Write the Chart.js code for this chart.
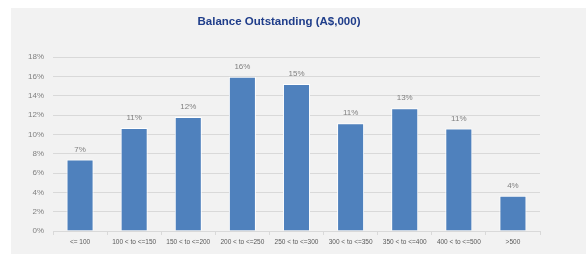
<!DOCTYPE html>
<html>
<head>
<meta charset="utf-8">
<style>
    body { margin: 0; background: #ffffff; }
    #wrap { width: 586px; height: 254px; }
</style>
</head>
<body>
<div id="wrap"><canvas id="balanceChart" width="586" height="254"></canvas></div>
<script src="https://cdn.jsdelivr.net/npm/chart.js"></script>
<script>
    const chartTitle = "Balance Outstanding (A$,000)";
    const categories = ["<= 100", "100 < to <=150", "150 < to <=200", "200 < to <=250", "250 < to <=300",
        "300 < to <=350", "350 < to <=400", "400 < to <=500", ">500"];
    const shares = [7.4, 10.65, 11.8, 15.95, 15.2, 11.15, 12.7, 10.6, 3.65];
    const yTicks = [0, 2, 4, 6, 8, 10, 12, 14, 16, 18];

    (() => {
        // grey panel behind everything + the title
        const panelPlugin = {
            id: 'panel',
            beforeDraw(chart) {
                const ctx = chart.ctx;
                ctx.save();
                ctx.fillStyle = '#f2f2f2';
                ctx.fillRect(11, 8, chart.width - 11, chart.height - 8);
                ctx.fillStyle = '#1f3d8a';
                ctx.font = 'bold 11.5px "Liberation Sans", Arial, sans-serif';
                ctx.textAlign = 'center';
                ctx.textBaseline = 'middle';
                ctx.fillText(chartTitle, 279, 22);
                ctx.restore();
            }
        };

        // percentage labels above each bar
        const valueLabels = {
            id: 'valueLabels',
            afterDatasetsDraw(chart) {
                const ctx = chart.ctx;
                const meta = chart.getDatasetMeta(0);
                ctx.save();
                ctx.fillStyle = '#808080';
                ctx.font = '8px "Liberation Sans", Arial, sans-serif';
                ctx.textAlign = 'center';
                ctx.textBaseline = 'bottom';
                meta.data.forEach((bar, i) => {
                    ctx.fillText(Math.round(shares[i]) + '%', bar.x, bar.y - 6);
                });
                ctx.restore();
            }
        };

        new Chart(document.getElementById('balanceChart'), {
            type: 'bar',
            data: {
                labels: categories,
                datasets: [{
                    data: shares,
                    backgroundColor: '#4f81bd',
                    borderColor: '#ffffff',
                    borderWidth: 1,
                    barPercentage: 0.5,
                    categoryPercentage: 1
                }]
            },
            options: {
                responsive: false,
                animation: false,
                layout: { padding: { top: 57, right: 46, bottom: 0, left: 0 } },
                plugins: {
                    legend: { display: false },
                    title: { display: false },
                    tooltip: { enabled: false }
                },
                scales: {
                    x: {
                        grid: {
                            offset: true,
                            drawOnChartArea: false,
                            drawTicks: true,
                            tickLength: 4,
                            color: '#d9d9d9'
                        },
                        border: { display: true, color: '#d9d9d9' },
                        ticks: {
                            color: '#595959',
                            padding: 3,
                            maxRotation: 0,
                            autoSkip: false,
                            font: { size: 6.5, family: '"Liberation Sans", Arial, sans-serif' }
                        },
                        afterFit: scale => { scale.height = 23; }
                    },
                    y: {
                        min: 0,
                        max: 18,
                        afterBuildTicks: scale => { scale.ticks = yTicks.map(v => ({ value: v })); },
                        grid: { color: '#d9d9d9', drawTicks: false },
                        border: { display: false },
                        ticks: {
                            color: '#808080',
                            padding: 9,
                            font: { size: 8, family: '"Liberation Sans", Arial, sans-serif' },
                            callback: v => v + '%'
                        },
                        afterFit: scale => { scale.width = 53; }
                    }
                }
            },
            plugins: [panelPlugin, valueLabels]
        });
    })();
</script>
</body>
</html>
